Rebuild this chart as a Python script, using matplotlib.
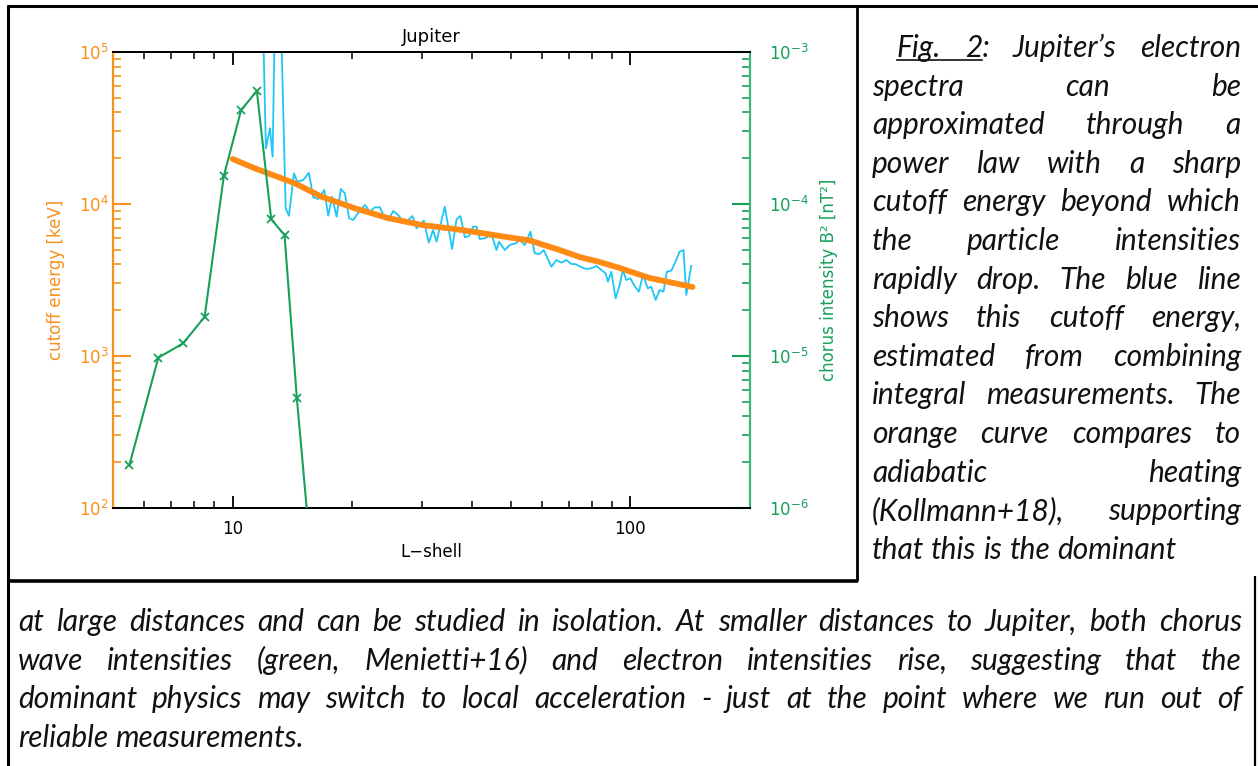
import matplotlib
matplotlib.use('Agg')
import matplotlib.pyplot as plt
from matplotlib.lines import Line2D
from matplotlib.transforms import IdentityTransform
from matplotlib.ticker import FixedLocator, FuncFormatter, NullFormatter, LogLocator

W, H = 1258, 766

# ---------------- data ----------------
green_L = [5.5, 6.5, 7.5, 8.5, 9.5, 10.5, 11.5, 12.5, 13.5, 14.5, 15.5]
green_B2 = [1.92e-6, 9.75e-6, 1.21e-5, 1.81e-5, 1.53e-4, 4.15e-4, 5.54e-4,
            7.93e-5, 6.25e-5, 5.27e-6, 7.5e-7]

blue_L = [11.85, 12.12, 12.41, 12.60, 12.81, 13.15, 13.59, 13.85, 14.26, 14.53,
          15.05, 15.55, 15.94, 16.41, 16.99, 17.39, 17.79, 18.25, 18.71, 19.15,
          19.63, 20.09, 20.76, 21.50, 22.13, 22.78, 23.45, 24.04, 24.60, 25.32,
          26.07, 27.10, 28.33, 29.00, 30.25, 31.13, 31.92, 32.55, 34.15, 35.63,
          36.55, 37.40, 38.35, 39.31, 40.23, 41.03, 41.82, 43.04, 44.13, 45.01,
          46.06, 46.76, 48.33, 49.75, 51.51, 52.72, 54.26, 56.08, 57.49, 59.18,
          60.57, 63.33, 65.19, 67.09, 69.06, 71.10, 72.89, 75.33, 77.53, 79.80,
          82.15, 84.55, 86.69, 87.85, 89.60, 91.85, 94.0, 95.8, 97.7, 100.0,
          102.5, 105.1, 107.6, 110.7, 112.9, 115.8, 118.5, 121.2, 123.6, 126.8,
          130.5, 133.0, 136.1, 138.3, 142.3]
blue_E = [3e5, 23250, 31480, 20470, 3e5, 3e5, 9370, 8375, 15920, 14020,
          14390, 16070, 11070, 10790, 12360, 8375, 11170, 8250, 12550, 11760,
          8050, 7850, 8860, 9850, 8900, 9510, 9510, 8250, 7770, 8990,
          8465, 7465, 8340, 6920, 7770, 5565, 6745, 5650, 9600, 5058,
          7930, 8340, 6040, 6160, 7090, 7090, 5885, 5945, 6160, 6040,
          4980, 5650, 4980, 5375, 5513, 5800, 5375, 6574, 4740, 4690,
          4980, 3867, 4280, 4110, 4280, 4030, 4020, 3833, 3736, 3780,
          3910, 3680, 3500, 3083, 3586, 2396, 2932, 3680, 3162, 3245,
          2886, 2650, 3410, 2788, 2858, 2335, 2718, 2650, 3586, 3640,
          4280, 4855, 4980, 2520, 3910]

orange_L = [10.0, 11.37, 14.34, 16.73, 20.29, 24.56, 29.90, 36.19, 40.63, 46.95,
            55.85, 66.44, 74.57, 83.73, 94.0, 111.8, 143.4]
orange_E = [19770, 17170, 13680, 11170, 9370, 8090, 7275, 6846, 6543, 6160,
            5754, 4980, 4480, 4153, 3793, 3260, 2844]

x_ticks = [10, 100]
left_ticks = [1e2, 1e3, 1e4, 1e5]
right_ticks = [1e-6, 1e-5, 1e-4, 1e-3]
left_tick_labels = [r'$10^{2}$', r'$10^{3}$', r'$10^{4}$', r'$10^{5}$']
right_tick_labels = [r'$10^{-6}$', r'$10^{-5}$', r'$10^{-4}$', r'$10^{-3}$']

title = 'Jupiter'
xlabel = 'L\u2212shell'
ylabel_left = 'cutoff energy [keV]'
ylabel_right = 'chorus intensity B\u00b2 [nT\u00b2]'

side_lines = [
    "Fig. 2: Jupiter\u2019s electron",
    "spectra can be",
    "approximated through a",
    "power law with a sharp",
    "cutoff energy beyond which",
    "the particle intensities",
    "rapidly drop. The blue line",
    "shows this cutoff energy,",
    "estimated from combining",
    "integral measurements. The",
    "orange curve compares to",
    "adiabatic heating",
    "(Kollmann+18), supporting",
    "that this is the dominant",
]
bottom_lines = [
    "at large distances and can be studied in isolation. At smaller distances to Jupiter, both chorus",
    "wave intensities (green, Menietti+16) and electron intensities rise, suggesting that the",
    "dominant physics may switch to local acceleration - just at the point where we run out of",
    "reliable measurements.",
]

ORANGE = '#F7901E'
ORANGE_LINE = '#FF8A14'
GREEN_AX = '#3CB878'
GREEN = '#16A05A'
BLUE = '#1EC6F7'

# ---------------- figure ----------------
fig = plt.figure(figsize=(W / 100, H / 100), dpi=100)
fig.patch.set_facecolor('white')

L, R, T, B = 113, 750, 52, 508
ax = fig.add_axes([L / W, 1 - B / H, (R - L) / W, (B - T) / H])
ax.set_xscale('log')
ax.set_yscale('log')
ax.set_xlim(5, 200)
ax.set_ylim(1e2, 1e5)

ax.plot(blue_L, blue_E, color=BLUE, lw=1.3, zorder=2)
ax.plot(orange_L, orange_E, color=ORANGE_LINE, lw=4.2, solid_capstyle='round',
        solid_joinstyle='round', zorder=3)

ax2 = ax.twinx()
ax2.set_yscale('log')
ax2.set_ylim(1e-6, 1e-3)
ax2.plot(green_L, green_B2, color=GREEN, lw=1.5, marker='x', ms=5.5, mew=1.3, zorder=4)

FS = 12
for a in (ax, ax2):
    for s in ('top', 'bottom'):
        a.spines[s].set_color('black')
        a.spines[s].set_linewidth(1.4)
ax.spines['left'].set_color(ORANGE)
ax.spines['left'].set_linewidth(1.6)
ax.spines['right'].set_visible(False)
ax2.spines['left'].set_visible(False)
ax2.spines['right'].set_color(GREEN_AX)
ax2.spines['right'].set_linewidth(1.6)

ax.xaxis.set_major_locator(FixedLocator(x_ticks))
ax.xaxis.set_major_formatter(FuncFormatter(lambda v, p: f'{v:g}'))
ax.xaxis.set_minor_locator(LogLocator(base=10, subs=[2, 3, 4, 5, 6, 7, 8, 9]))
ax.xaxis.set_minor_formatter(NullFormatter())
ax.tick_params(axis='x', which='both', direction='in', top=True, bottom=True,
               colors='black', labelsize=FS)
ax.tick_params(axis='x', which='major', length=9, width=1.3, pad=9)
ax.tick_params(axis='x', which='minor', length=5, width=1.1)

ax.yaxis.set_major_locator(FixedLocator(left_ticks))
ax.set_yticklabels(left_tick_labels)
ax.yaxis.set_minor_locator(LogLocator(base=10, subs=[2, 3, 4, 5, 6, 7, 8, 9]))
ax.yaxis.set_minor_formatter(NullFormatter())
ax.tick_params(axis='y', which='both', direction='in', left=True, right=False,
               colors=ORANGE, labelsize=FS)
ax.tick_params(axis='y', which='major', length=13, width=1.5, pad=3)
ax.tick_params(axis='y', which='minor', length=6, width=1.2)

ax2.yaxis.set_major_locator(FixedLocator(right_ticks))
ax2.set_yticklabels(right_tick_labels)
ax2.yaxis.set_minor_locator(LogLocator(base=10, subs=[2, 3, 4, 5, 6, 7, 8, 9]))
ax2.yaxis.set_minor_formatter(NullFormatter())
ax2.tick_params(axis='y', which='both', direction='in', right=True, left=False,
                colors=GREEN, labelsize=FS)
ax2.tick_params(axis='y', which='major', length=13, width=1.5, pad=14)
ax2.tick_params(axis='y', which='minor', length=6, width=1.2)

ax.set_title(title, fontsize=13, pad=7)
ax.set_xlabel(xlabel, fontsize=FS, labelpad=3)
ax.set_ylabel(ylabel_left, fontsize=FS, color=ORANGE, labelpad=10)
ax2.set_ylabel(ylabel_right, fontsize=FS, color=GREEN, labelpad=8)

# ---------------- frame lines ----------------
def hline(x0, x1, y, lw):
    fig.add_artist(Line2D([x0, x1], [H - y, H - y], color='black', lw=lw,
                          transform=IdentityTransform(), solid_capstyle='butt'))

def vline(x, y0, y1, lw):
    fig.add_artist(Line2D([x, x], [H - y0, H - y1], color='black', lw=lw,
                          transform=IdentityTransform(), solid_capstyle='butt'))

hline(7, W, 6, 2.2)
vline(8, 5, H, 2.2)
vline(857, 5, 581, 2.0)
hline(7, 858, 581, 2.6)
vline(1255, 576, H, 1.6)

# ---------------- justified text ----------------
TFONT = ['Lato', 'DejaVu Sans']
TFS = 21.5
TCOL = '#111111'
renderer = fig.canvas.get_renderer()

def measure(s):
    t = fig.text(0, 0, s, fontsize=TFS, family=TFONT, style='italic',
                 transform=IdentityTransform())
    w = t.get_window_extent(renderer).width
    t.remove()
    return w

SPACE = measure('a a') - measure('aa')

def place_line(line, xl, xr, y_base, justify):
    words = line.split(' ')
    widths = [measure(w) for w in words]
    if justify and len(words) > 1:
        gap = (xr - xl - sum(widths)) / (len(words) - 1)
    else:
        gap = SPACE
    x = xl
    pos = []
    for w, wd in zip(words, widths):
        fig.text(x, H - y_base, w, fontsize=TFS, family=TFONT, style='italic',
                 color=TCOL, va='baseline', ha='left', transform=IdentityTransform())
        pos.append((x, wd))
        x += wd + gap
    return pos

for i, line in enumerate(side_lines):
    yb = 57 + 38.6 * i
    xl = 897 if i == 0 else 872
    pos = place_line(line, xl, 1241, yb, justify=(i < len(side_lines) - 1))
    if i == 0:
        x_end = pos[1][0] + measure('2')
        fig.add_artist(Line2D([pos[0][0], x_end], [H - yb - 3, H - yb - 3],
                              color=TCOL, lw=1.2, transform=IdentityTransform()))

for i, line in enumerate(bottom_lines):
    yb = 631 + 38.6 * i
    place_line(line, 18, 1242, yb, justify=(i < len(bottom_lines) - 1))

fig.savefig('out.png', dpi=100, facecolor='white')
